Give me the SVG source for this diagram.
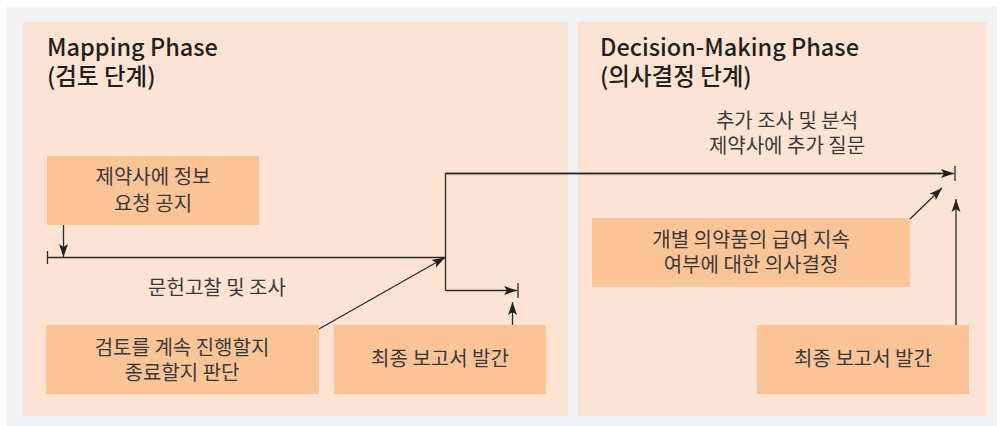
<svg xmlns="http://www.w3.org/2000/svg" width="999" height="426" viewBox="0 0 999 426">
<defs>
<style>
.bg{fill:#f1f2f4}
.panel{fill:#fde3d3}
.box{fill:#fbc497}
.title{font-family:"Noto Sans CJK KR","Noto Sans",sans-serif;font-size:23.5px;font-weight:500;fill:#231f20}
.t{font-family:"Noto Sans CJK KR","Noto Sans",sans-serif;font-size:20px;fill:#3a3a3a;text-anchor:middle}
.ln{stroke:#2b2b2b;stroke-width:1.3;fill:none}
.ah{marker-end:url(#arr)}
</style>
<marker id="arr" markerUnits="userSpaceOnUse" markerWidth="14" markerHeight="10" refX="13" refY="5" orient="auto">
<path d="M0,0.5 L13,5 L0,9.5 L3,5 Z" fill="#231f20"/>
</marker>
</defs>
<rect class="bg" x="6" y="7" width="991" height="419"/>
<g id="panel-mapping">
<rect class="panel" x="23" y="22" width="545" height="394"/>
<text class="title" x="47" y="56">Mapping Phase</text>
<text class="title" x="47" y="85">(검토 단계)</text>
</g>
<g id="panel-decision">
<rect class="panel" x="578" y="22" width="409" height="394"/>
<text class="title" x="600" y="56">Decision-Making Phase</text>
<text class="title" x="600" y="85">(의사결정 단계)</text>
</g>
<g id="node-request">
<rect class="box" x="47" y="156" width="212" height="69"/>
<text class="t" x="153" y="184">제약사에 정보</text>
<text class="t" x="153" y="211">요청 공지</text>
</g>
<g id="node-judge">
<rect class="box" x="46" y="325" width="273" height="69"/>
<text class="t" x="182" y="355">검토를 계속 진행할지</text>
<text class="t" x="182" y="380">종료할지 판단</text>
</g>
<g id="node-report1">
<rect class="box" x="334" y="325" width="212" height="69"/>
<text class="t" x="440" y="366">최종 보고서 발간</text>
</g>
<g id="node-decision">
<rect class="box" x="592" y="218" width="318" height="69"/>
<text class="t" x="751" y="247">개별 의약품의 급여 지속</text>
<text class="t" x="751" y="272">여부에 대한 의사결정</text>
</g>
<g id="node-report2">
<rect class="box" x="757" y="325" width="212" height="69"/>
<text class="t" x="863" y="366">최종 보고서 발간</text>
</g>
<g id="labels">
<text class="t" x="217" y="295">문헌고찰 및 조사</text>
<text class="t" x="787" y="128">추가 조사 및 분석</text>
<text class="t" x="787" y="153">제약사에 추가 질문</text>
</g>
<g id="connectors">
<line class="ln ah" x1="63.5" y1="225" x2="63.5" y2="257"/>
<line class="ln" x1="47.5" y1="251" x2="47.5" y2="264"/>
<line class="ln" x1="47.5" y1="257.5" x2="445.5" y2="257.5"/>
<line class="ln ah" x1="319" y1="329" x2="445" y2="257.5"/>
<polyline class="ln" points="445.5,290.5 445.5,173.5 941,173.5"/>
<line class="ln ah" x1="445.5" y1="173.5" x2="954" y2="173.5"/>
<line class="ln" x1="955" y1="166" x2="955" y2="181"/>
<line class="ln ah" x1="445" y1="290.5" x2="517" y2="290.5"/>
<line class="ln" x1="518" y1="283" x2="518" y2="298"/>
<line class="ln ah" x1="512.5" y1="325" x2="512.5" y2="302"/>
<line class="ln ah" x1="910" y1="219" x2="942" y2="188"/>
<line class="ln ah" x1="956" y1="325" x2="956" y2="199"/>
</g>
</svg>
